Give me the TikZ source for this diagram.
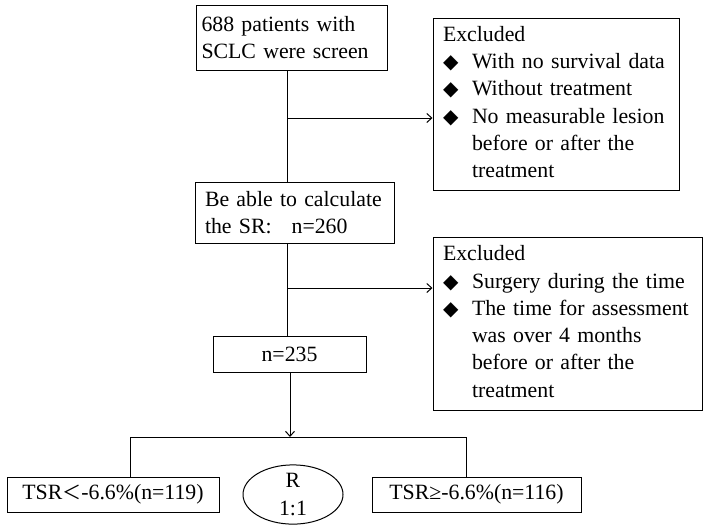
\documentclass[tikz,border=0pt]{standalone}
\usepackage{fontspec}
\setmainfont{Liberation Serif}
\newfontfamily\symfont{DejaVu Sans}
\newfontfamily\cjkfont{Noto Sans CJK SC}
\usetikzlibrary{arrows.meta,shapes.geometric}
\newcommand{\dia}{\makebox[29pt][l]{\symfont\fontsize{20}{27}\selectfont ◆}}
\begin{document}
\begin{tikzpicture}[x=1pt,y=-1pt,
  font=\fontsize{21.8}{27.3}\selectfont,
  box/.style={draw, line width=1pt, inner sep=0pt, align=left},
  cbox/.style={draw, line width=1pt, inner sep=0pt, align=center},
  line/.style={line width=1pt},
  arr/.style={line width=1pt, -{Straight Barb[length=5pt,width=9pt]}}]
\useasboundingbox (0,0) rectangle (708,528);
% main column
\node[box, minimum width=191pt, minimum height=65pt, text width=181pt] (b1) at (292,37.5) {688 patients with\\SCLC were screen};
\node[box, minimum width=199pt, minimum height=61pt, text width=179pt] (b2) at (294.5,212.5) {Be able to calculate\\the SR:\hspace{20pt}n=260};
\node[cbox, minimum width=153pt, minimum height=36pt] (b3) at (289.5,354) {n=235};
% exclusion boxes
\node[box, minimum width=246pt, minimum height=172pt, text width=226pt] (e1) at (556,104) {%
\begin{tabular}{@{}l@{}l@{}}
\multicolumn{2}{@{}l@{}}{Excluded}\\
\dia & With no survival data\\
\dia & Without treatment\\
\dia & No measurable lesion\\
 & before or after the\\
 & treatment
\end{tabular}};
\node[box, minimum width=269pt, minimum height=173pt, text width=249pt] (e2) at (567.5,323.5) {%
\begin{tabular}{@{}l@{}l@{}}
\multicolumn{2}{@{}l@{}}{Excluded}\\
\dia & Surgery during the time\\
\dia & The time for assessment\\
 & was over 4 months\\
 & before or after the\\
 & treatment
\end{tabular}};
% bottom row
\node[cbox, minimum width=212pt, minimum height=35pt] (L) at (113,494.5) {TSR{\cjkfont\fontsize{19}{27}\selectfont ＜}-6.6\%(n=119)};
\node[draw, line width=1pt, ellipse, inner sep=0pt, minimum width=100pt, minimum height=55pt, align=center] (E) at (293,494.5) {R\\1:1};
\node[cbox, minimum width=209pt, minimum height=35pt] (R) at (476.5,494.5) {TSR≥-6.6\%(n=116)};
% connectors
\coordinate (sp1) at (287,118);
\coordinate (sp2) at (287,288);
\coordinate (sp3) at (290,437);
\coordinate (jl) at (130,437);
\coordinate (jr) at (466,437);
\draw[line] (b1.south -| sp1) -- (b2.north -| sp1);
\draw[arr] (sp1) -- (sp1 -| e1.west);
\draw[line] (b2.south -| sp2) -- (b3.north -| sp2);
\draw[arr] (sp2) -- (sp2 -| e2.west);
\draw[arr] (b3.south -| sp3) -- (sp3);
\draw[line] (L.north -| jl) -- (jl) -- (jr) -- (R.north -| jr);
\end{tikzpicture}
\end{document}
